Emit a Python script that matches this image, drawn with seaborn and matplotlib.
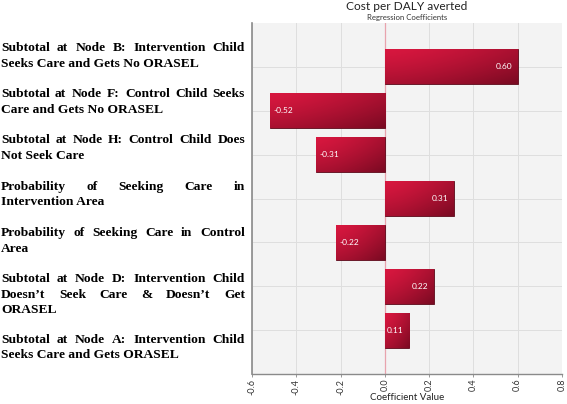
import numpy as np
import pandas as pd
import matplotlib
matplotlib.use("Agg")
import matplotlib.pyplot as plt
import matplotlib.colors as mcolors
import seaborn as sns

# ---------------- data ----------------
categories = [
    "Subtotal at Node B: Intervention Child Seeks Care and Gets No ORASEL",
    "Subtotal at Node F: Control Child Seeks Care and Gets No ORASEL",
    "Subtotal at Node H: Control Child Does Not Seek Care",
    "Probability of Seeking Care in Intervention Area",
    "Probability of Seeking Care in Control Area",
    "Subtotal at Node D: Intervention Child Doesn’t  Seek Care & Doesn’t Get ORASEL",
    "Subtotal at Node A:  Intervention Child Seeks Care and Gets ORASEL",
]
coefficients = [0.60, -0.52, -0.31, 0.31, -0.22, 0.22, 0.11]
value_labels = ["0.60", "-0.52", "-0.31", "0.31", "-0.22", "0.22", "0.11"]
label_lines = [
    ["Subtotal at Node B: Intervention Child", "Seeks Care and Gets No ORASEL"],
    ["Subtotal at Node F: Control Child Seeks", "Care and Gets No ORASEL"],
    ["Subtotal at Node H: Control Child Does", "Not Seek Care"],
    ["Probability of Seeking Care in", "Intervention Area"],
    ["Probability of Seeking Care in Control", "Area"],
    ["Subtotal at Node D: Intervention Child", "Doesn’t  Seek Care & Doesn’t Get", "ORASEL"],
    ["Subtotal at Node A:  Intervention Child", "Seeks Care and Gets ORASEL"],
]
x_ticks = [-0.6, -0.4, -0.2, 0.0, 0.2, 0.4, 0.6, 0.8]
x_tick_labels = ["-0.6", "-0.4", "-0.2", "0.0", "0.2", "0.4", "0.6", "0.8"]
title = "Cost per DALY averted"
subtitle = "Regression Coefficients"
x_label = "Coefficient Value"

df = pd.DataFrame({"category": categories, "coef": coefficients})

# ---------------- figure ----------------
W, H = 567, 404
SANS = "Lato"
fig = plt.figure(figsize=(W / 100, H / 100), dpi=100)
fig.patch.set_facecolor("white")
ax_left, ax_right, ax_top, ax_bottom = 252, 562, 23, 374
ax = fig.add_axes([ax_left / W, (H - ax_bottom) / H,
                   (ax_right - ax_left) / W, (ax_bottom - ax_top) / H])
ax.set_facecolor("#f3f3f3")

sns.barplot(data=df, x="coef", y="category", orient="h", ax=ax,
            color="#c0122f", width=0.8, edgecolor="#5a0618", linewidth=0.6,
            zorder=3)

# gradient fill clipped to each bar
bright = np.array(mcolors.to_rgb("#d8173f"))
dark = np.array(mcolors.to_rgb("#7a0a22"))
for p in list(ax.patches):
    x0 = min(p.get_x(), p.get_x() + p.get_width())
    x1 = max(p.get_x(), p.get_x() + p.get_width())
    y0 = min(p.get_y(), p.get_y() + p.get_height())
    y1 = max(p.get_y(), p.get_y() + p.get_height())
    nx, ny = 60, 30
    u = np.linspace(0, 1, nx)[None, :]
    v = np.linspace(0, 1, ny)[:, None]
    t = np.clip(0.5 * u ** 1.4 + 0.5 * v ** 1.3, 0, 1)
    img = bright[None, None, :] * (1 - t[..., None]) + dark[None, None, :] * t[..., None]
    im = ax.imshow(img, extent=(x0, x1, y1, y0), origin="upper",
                   aspect="auto", zorder=3.5, interpolation="bilinear")
    im.set_clip_path(p)

ax.set_xlim(-0.6, 0.8)
ax.set_ylim(7.0, -1.0)

ax.set_xticks(x_ticks)
ax.set_xticklabels(x_tick_labels, rotation=90, fontsize=6.5, color="#333333",
                   family=SANS)
ax.set_yticks(range(len(categories)))
ax.set_yticklabels([])
ax.tick_params(axis="y", length=0)
ax.tick_params(axis="x", length=2, color="#888888", width=0.6, pad=1.5)

ax.grid(True, color="#dedede", linewidth=0.7, zorder=0)
ax.set_axisbelow(True)
for s in ["top", "right"]:
    ax.spines[s].set_visible(False)
ax.spines["left"].set_color("#8a8a8a")
ax.spines["left"].set_linewidth(1.2)
ax.spines["bottom"].set_color("#8a8a8a")
ax.spines["bottom"].set_linewidth(1.0)
ax.axvline(0, color="#e8a3ad", linewidth=0.9, zorder=2)

ax.set_xlabel("")
ax.set_ylabel("")

# value labels inside bars
for i, (v, lab) in enumerate(zip(coefficients, value_labels)):
    if v >= 0:
        ax.annotate(lab, xy=(v, i), xytext=(-4, 0), textcoords="offset points",
                    ha="right", va="center", color="white", fontsize=6,
                    family=SANS, zorder=5)
    else:
        ax.annotate(lab, xy=(v, i), xytext=(2.5, 0), textcoords="offset points",
                    ha="left", va="center", color="white", fontsize=6,
                    family=SANS, zorder=5)

# titles
cx = (ax_left + ax_right) / 2 / W
fig.text(cx, 1 - 7 / H, title, ha="center", va="center", fontsize=8.6,
         color="#222222", family=SANS)
fig.text(cx, 1 - 17.5 / H, subtitle, ha="center", va="center", fontsize=5.6,
         color="#333333", family=SANS)
fig.text(cx, 1 - 398 / H, x_label, ha="center", va="center", fontsize=7.0,
         color="#222222", family=SANS)

# justified, bold serif category labels on the left
renderer = fig.canvas.get_renderer()
fs = 9.7
left_px, right_px = 1.0, 245.0
block_starts = [48.3, 94.3, 140.3, 186.7, 233.3, 279.3, 340.0]
line_gap = 15.5


def text_width(s):
    t = fig.text(0, 0, s, fontsize=fs, family="Liberation Serif", weight="bold")
    w = t.get_window_extent(renderer).width
    t.remove()
    return w


for lines, y0 in zip(label_lines, block_starts):
    for k, line in enumerate(lines):
        ypx = y0 + k * line_gap
        yf = 1 - ypx / H
        last = (k == len(lines) - 1)
        if last:
            fig.text(left_px / W, yf, line, ha="left", va="center", fontsize=fs,
                     family="Liberation Serif", weight="bold", color="black")
            continue
        words = [w for w in line.split(" ") if w]
        widths = [text_width(w) for w in words]
        ngaps = len(words) - 1
        gap = (right_px - left_px - sum(widths)) / max(ngaps, 1)
        x = left_px
        for w, wd in zip(words, widths):
            fig.text(x / W, yf, w, ha="left", va="center", fontsize=fs,
                     family="Liberation Serif", weight="bold", color="black")
            x += wd + gap

fig.savefig("out.png", dpi=100)
